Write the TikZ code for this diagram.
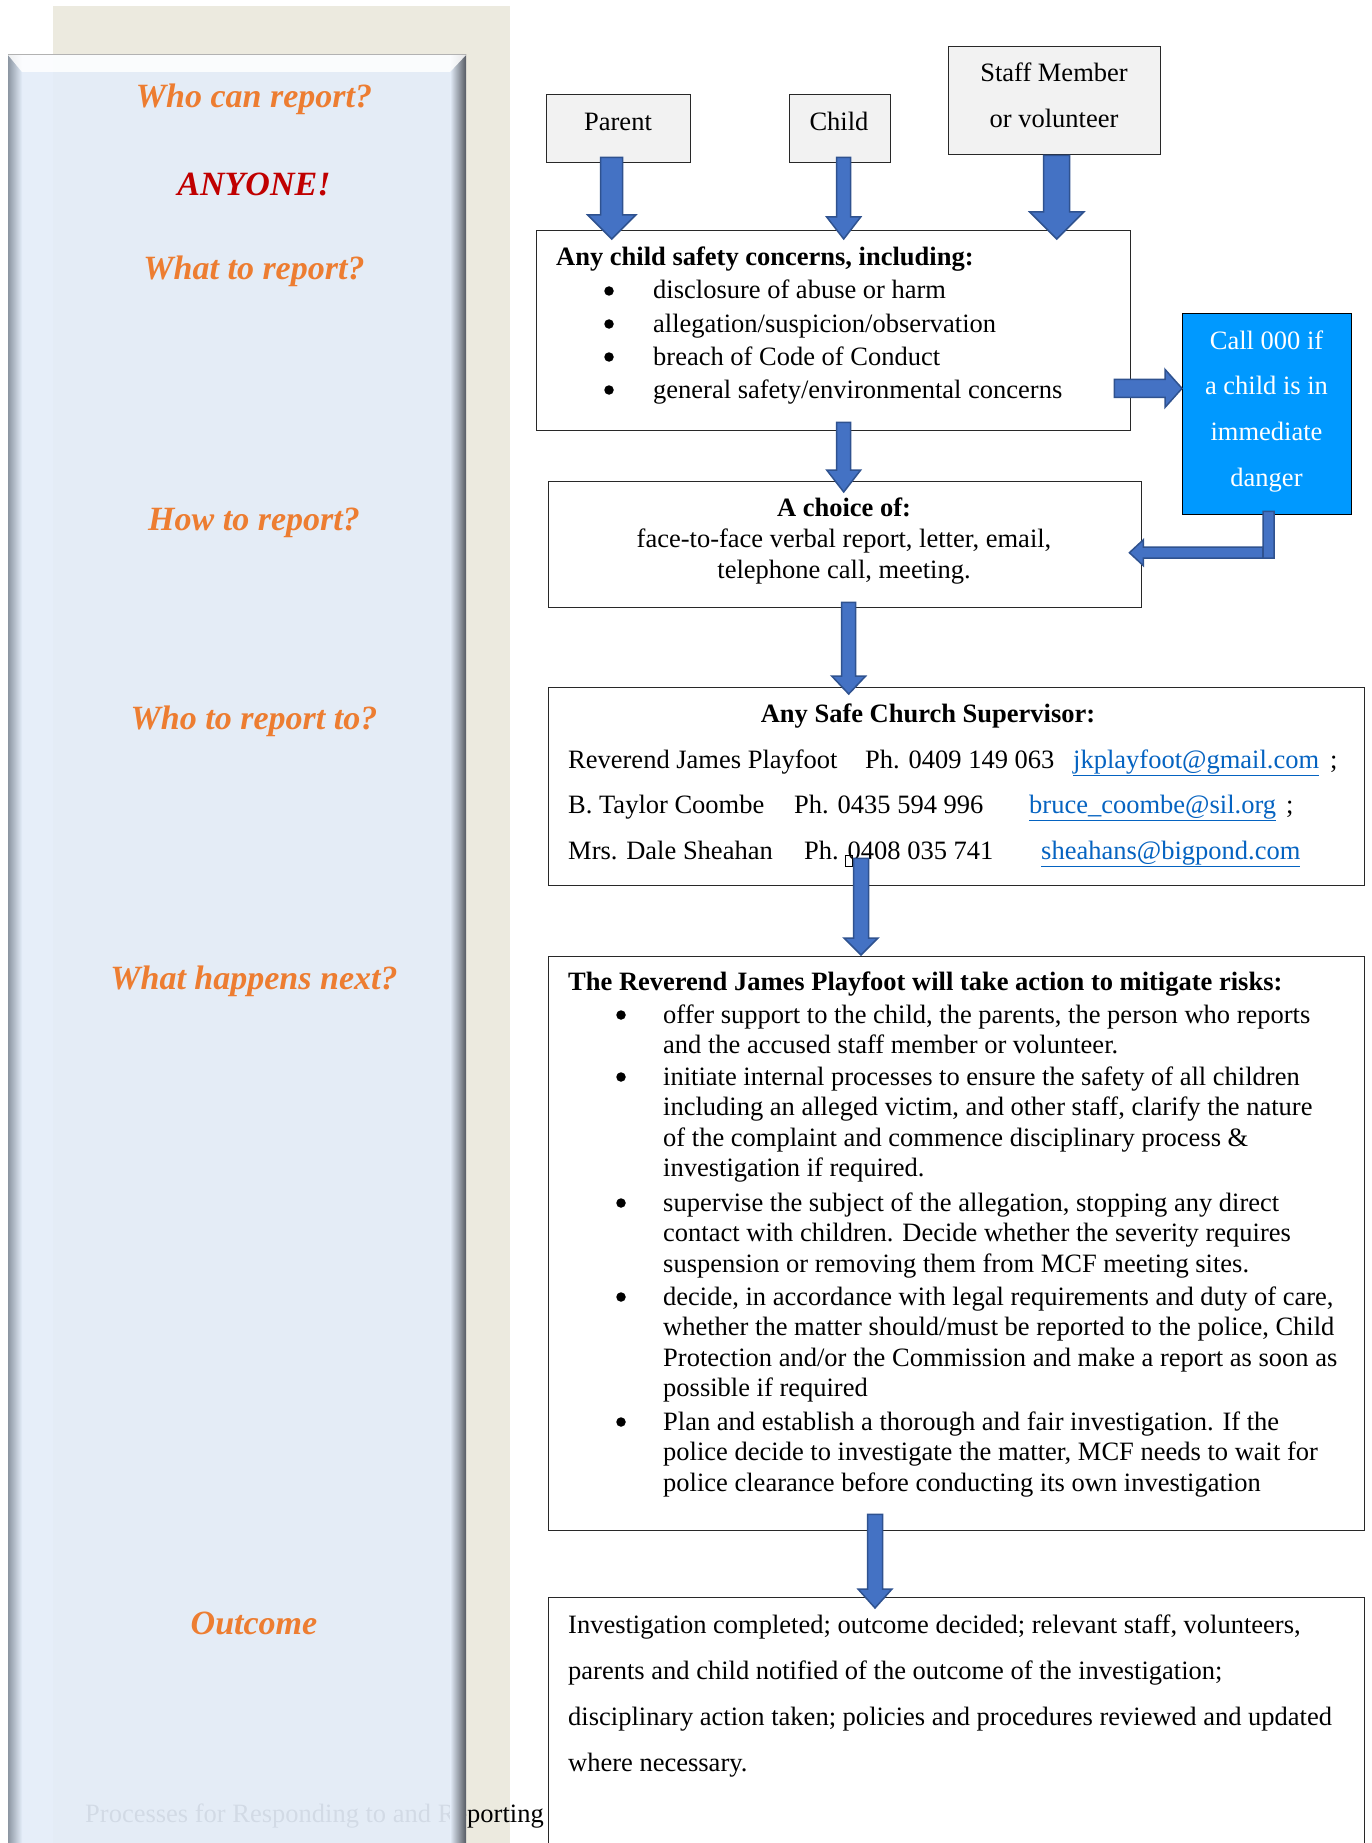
\documentclass[tikz,border=0pt]{standalone}
\usepackage{fontspec}
\setmainfont{Liberation Serif}
\usetikzlibrary{calc}
\definecolor{beige}{RGB}{236,234,223}
\definecolor{panelfill}{RGB}{228,237,249}
\definecolor{bevL}{RGB}{140,150,162}
\definecolor{bevR}{RGB}{85,90,98}
\definecolor{orangeA}{RGB}{237,125,49}
\definecolor{redA}{RGB}{192,0,0}
\definecolor{arrowfill}{RGB}{68,114,196}
\definecolor{arrowline}{RGB}{47,82,143}
\definecolor{callblue}{RGB}{0,153,255}
\definecolor{linkblue}{RGB}{5,99,193}
\definecolor{grayfill}{RGB}{242,242,242}
\definecolor{boxline}{RGB}{40,40,40}
\tikzset{
  body/.style={font=\fontsize{26.5}{30.6}\selectfont, inner sep=0pt},
  lbl/.style={body, anchor=base west},
  ctr/.style={body, anchor=base},
  bld/.style={lbl, font=\fontsize{26.5}{30.6}\selectfont\bfseries},
  head/.style={font=\fontsize{34}{40}\selectfont\bfseries\itshape, text=orangeA, anchor=base, inner sep=0pt},
  boxst/.style={draw=boxline, line width=1.4pt, fill=white, inner sep=0pt, anchor=north west},
  graybox/.style={boxst, fill=grayfill},
  barrow/.style={fill=arrowfill, draw=arrowline, line width=1.5pt, line join=miter},
  link/.style={lbl, text=linkblue},
  bul/.style={circle, fill=black, inner sep=0pt, minimum size=9.5pt},
}
% block arrow pointing down: #1 top coordinate, #2 tip coordinate, #3 shaft half width, #4 head half width, #5 head length
\newcommand\blkdown[5]{%
  \draw[barrow] let \p1=(#1), \p2=(#2) in
    (\x1-#3pt,\y1) -- (\x1+#3pt,\y1) -- (\x1+#3pt,\y2+#5pt) -- (\x1+#4pt,\y2+#5pt)
    -- (\x1,\y2) -- (\x1-#4pt,\y2+#5pt) -- (\x1-#3pt,\y2+#5pt) -- cycle;}
\begin{document}
\begin{tikzpicture}[x=1pt,y=-1pt]
\path[clip] (0,0) rectangle (1371,1843);
\fill[white] (0,0) rectangle (1371,1843);
% left side panel
\fill[beige] (53,6) rectangle (510,1843);
\node[lbl] (footer) at (85,1822) {Processes for Responding to and Reporting};
\fill[panelfill, fill opacity=0.92] (8,55) rectangle (466,1843);
\shade[left color=bevL, right color=panelfill] (8,55) rectangle (22,1843);
\shade[left color=panelfill, right color=bevR] (450,55) rectangle (466,1843);
\fill[white, opacity=0.85] (8,55) -- (466,55) -- (450,72) -- (22,72) -- cycle;
\draw[gray!60, line width=1pt] (8,55) -- (466,55);
\node[head] (h1) at (254,108) {Who can report?};
\node[head, text=redA] (h2) at (254,196) {ANYONE!};
\node[head] (h3) at (254,280) {What to report?};
\node[head] (h4) at (254,530) {How to report?};
\node[head] (h5) at (254,729) {Who to report to?};
\node[head] (h6) at (254,989) {What happens next?};
\node[head] (h7) at (254,1634) {Outcome};
% boxes
\node[graybox, minimum width=144, minimum height=68] (parent) at (546,94) {};
\node[graybox, minimum width=101, minimum height=68] (child) at (789,94) {};
\node[graybox, minimum width=212, minimum height=108] (staff) at (948,46) {};
\node[boxst, minimum width=594, minimum height=200] (box1) at (536,230) {};
\node[boxst, fill=callblue, draw=black, minimum width=169, minimum height=201] (call) at (1182,313) {};
\node[boxst, minimum width=593, minimum height=126] (box2) at (548,481) {};
\node[boxst, minimum width=816, minimum height=198] (box3) at (548,687) {};
\node[boxst, minimum width=816, minimum height=574] (box4) at (548,956) {};
\node[boxst, minimum width=816, minimum height=320] (box5) at (548,1597) {};
% texts
\node[ctr] (parentT) at (618,131) {Parent};
\node[ctr] (childT) at (839,131) {Child};
\node[ctr] (staffT1) at (1054,82) {Staff Member};
\node[ctr] (staffT2) at (1054,128) {or volunteer};
\node[bld] (b1title) at (556,266) {Any child safety concerns, including:};
\foreach \t [count=\i from 0] in {{disclosure of abuse or harm},{allegation/suspicion/observation},{breach of Code of Conduct},{general safety/environmental concerns}}{
  \node[bul] (b1bul\i) at (609,{291+33*\i}) {};
  \node[lbl] (b1l\i) at (653,{299+33*\i}) {\t};
}
\foreach \t [count=\i from 0] in {{Call 000 if},{a child is in},{immediate},{danger}}{
  \node[ctr, text=white] (callT\i) at (1266.5,{349+45.7*\i}) {\t};
}
\node[ctr, font=\fontsize{26.5}{30.6}\selectfont\bfseries] (b2title) at (844,516) {A choice of:};
\node[ctr] (b2l1) at (844,547.5) {face-to-face verbal report, letter, email,};
\node[ctr] (b2l2) at (844,578) {telephone call, meeting.};
\node[ctr, font=\fontsize{26.5}{30.6}\selectfont\bfseries] (b3title) at (928,722) {Any Safe Church Supervisor:};
\node[lbl] (n1) at (568,768) {Reverend James Playfoot};
\node[lbl] (p1) at (865,768) {Ph. 0409 149 063};
\node[link] (e1) at (1073,768) {\underline{jkplayfoot@gmail.com}};
\node[lbl] (s1) at (1330,768) {;};
\node[lbl] (n2) at (568,813) {B. Taylor Coombe};
\node[lbl] (p2) at (794,813) {Ph. 0435 594 996};
\node[link] (e2) at (1029,813) {\underline{bruce\_coombe@sil.org}};
\node[lbl] (s2) at (1286,813) {;};
\node[lbl] (n3) at (568,859) {Mrs. Dale Sheahan};
\node[lbl] (p3) at (804,859) {Ph. 0408 035 741};
\node[link] (e3) at (1041,859) {\underline{sheahans@bigpond.com}};
\draw[black, line width=0.8pt] (845,855) rectangle (852,866);
\node[bld] (b4title) at (568,990) {The Reverend James Playfoot will take action to mitigate risks:};
\foreach \by/\lines [count=\k] in {
  1023/{{offer support to the child, the parents, the person who reports},{and the accused staff member or volunteer.}},
  1085/{{initiate internal processes to ensure the safety of all children},{including an alleged victim, and other staff, clarify the nature},{of the complaint and commence disciplinary process \&},{investigation if required.}},
  1211/{{supervise the subject of the allegation, stopping any direct},{contact with children. Decide whether the severity requires},{suspension or removing them from MCF meeting sites.}},
  1305/{{decide, in accordance with legal requirements and duty of care,},{whether the matter should/must be reported to the police, Child},{Protection and/or the Commission and make a report as soon as},{possible if required}},
  1430/{{Plan and establish a thorough and fair investigation. If the},{police decide to investigate the matter, MCF needs to wait for},{police clearance before conducting its own investigation}}}{
  \node[bul] (b4bul\k) at (621,{\by-8}) {};
  \foreach \t [count=\i from 0] in \lines {
    \node[lbl] (b4l\k-\i) at (663,{\by+30.6*\i}) {\t};
  }
}
\foreach \t [count=\i from 0] in {{Investigation completed; outcome decided; relevant staff, volunteers,},{parents and child notified of the outcome of the investigation;},{disciplinary action taken; policies and procedures reviewed and updated},{where necessary.}}{
  \node[lbl] (b5l\i) at (568,{1633+46*\i}) {\t};
}
% arrows
\coordinate (a1t) at ($(parent.south)+(-7,-6)$);
\coordinate (a1b) at ($(a1t|-box1.north)+(0,9)$);
\coordinate (a2t) at ($(child.south)+(3.5,-6)$);
\coordinate (a2b) at ($(a2t|-box1.north)+(0,9)$);
\coordinate (a3t) at ($(staff.south)+(2,0)$);
\coordinate (a3b) at ($(a3t|-box1.north)+(0,9)$);
\coordinate (a4t) at ($(box1.south)+(10,-9)$);
\coordinate (a4b) at ($(a4t|-box2.north)+(0,11)$);
\coordinate (a5t) at ($(box2.south)+(3.5,-6)$);
\coordinate (a5b) at ($(a5t|-box3.north)+(0,7)$);
\coordinate (a6t) at ($(box3.south west)+(313,-28)$);
\coordinate (a6b) at ($(a6t|-box4.north)+(0,-1)$);
\coordinate (a7t) at ($(box4.south west)+(327,-17)$);
\coordinate (a7b) at ($(a7t|-box5.north)+(0,11)$);
\coordinate (a8t) at ($(box1.south east)+(-17,-43)$);
\coordinate (a8b) at (a8t -| call.west);
\coordinate (a9t) at ($(call.south)+(1.5,-4)$);
\coordinate (a9b) at ($(box2.east)+(-13,8)$);
\blkdown{a1t}{a1b}{11}{24}{24}
\blkdown{a2t}{a2b}{7}{17}{22}
\blkdown{a3t}{a3b}{13}{27}{27}
\blkdown{a4t}{a4b}{7}{17}{22}
\blkdown{a5t}{a5b}{7}{17}{18}
\blkdown{a6t}{a6b}{7.5}{17}{17}
\blkdown{a7t}{a7b}{7.5}{17}{19}
\draw[barrow] let \p1=(a8t), \p2=(a8b) in
  (\x1,\y1+9pt) -- (\x2-17pt,\y1+9pt) -- (\x2-17pt,\y1+19pt) -- (\x2,\y1)
  -- (\x2-17pt,\y1-19pt) -- (\x2-17pt,\y1-9pt) -- (\x1,\y1-9pt) -- cycle;
\draw[barrow] let \p1=(a9t), \p2=(a9b) in
  (\x1-5.5pt,\y1) -- (\x1+5.5pt,\y1) -- (\x1+5.5pt,\y2-5.5pt) -- (\x2+14pt,\y2-5.5pt)
  -- (\x2+14pt,\y2-13pt) -- (\x2,\y2) -- (\x2+14pt,\y2+13pt) -- (\x2+14pt,\y2+5.5pt)
  -- (\x1-5.5pt,\y2+5.5pt) -- cycle;
\draw[arrowline, line width=1.5pt] let \p1=(a9t), \p2=(a9b) in
  (\x1-5.5pt,\y2+5.5pt) -- (\x1-5.5pt,\y2-5.5pt);
\end{tikzpicture}
\end{document}
